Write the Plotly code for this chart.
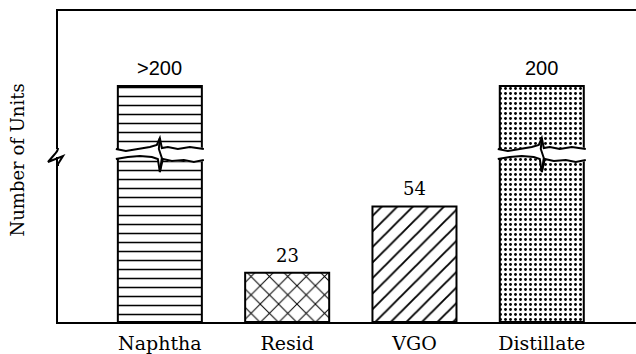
import plotly.graph_objects as go

# Refinery units by feed type
categories = ["Naphtha", "Resid", "VGO", "Distillate"]
units = [200, 23, 54, 200]
value_labels = [">200", "23", "54", "200"]
broken = [True, False, False, True]

patterns = ["-", "x", "/", "."]
pattern_sizes = [9, 13, 11, 5]
pattern_solidity = [0.17, 0.15, 0.17, 0.26]

W, H = 636, 354
M = dict(l=58, r=0, t=11, b=32)

BAR_W = 0.66
LOW_TOP = 0.5305      # top of lower panel (paper fraction)
UP_BOT = 0.5563       # bottom of upper panel
BRK = (LOW_TOP + UP_BOT) / 2
SERIF = "DejaVu Serif"
SANS = "Liberation Sans"


def bar_marker(idx):
    return dict(
        color="white",
        line=dict(color="black", width=2),
        pattern=dict(shape=[patterns[i] for i in idx],
                     size=[pattern_sizes[i] for i in idx],
                     solidity=[pattern_solidity[i] for i in idx],
                     fgcolor="black", bgcolor="white", fgopacity=1, fillmode="replace"),
    )


fig = go.Figure()

# lower panel: every bar
all_idx = list(range(len(categories)))
fig.add_trace(go.Bar(x=categories, y=units, xaxis="x", yaxis="y", width=BAR_W,
                     marker=bar_marker(all_idx), hoverinfo="skip", showlegend=False))

# upper panel: only the bars that run past the break
up_idx = [i for i, b in enumerate(broken) if b]
fig.add_trace(go.Bar(x=[categories[i] for i in up_idx], y=[units[i] for i in up_idx],
                     xaxis="x2", yaxis="y2", width=BAR_W,
                     marker=bar_marker(up_idx), hoverinfo="skip", showlegend=False))

# value labels above bars
for i, (c, v, lab) in enumerate(zip(categories, units, value_labels)):
    upper = broken[i]
    fig.add_annotation(
        x=c, y=v, xref="x2" if upper else "x", yref="y2" if upper else "y",
        text=lab, showarrow=False, yanchor="bottom", yshift=5,
        font=dict(family=SANS if upper else SERIF, size=20 if upper else 18, color="black"),
    )

# wavy break across the tall bars
half = 44
upper_curve = [(-half, 4), (-34, 2), (-22, 4), (-10, 6), (-3, 8), (0, 15),
               (2, 5), (8, 6), (18, 4), (30, 6), (half, 4)]
lower_curve = [(-half, -6), (-32, -4), (-20, -3), (-8, -4), (-2, -6), (0, -19),
               (3, -6), (12, -8), (24, -7), (34, -9), (half, -7)]


def path_of(pts, close=False):
    s = "M " + " L ".join(f"{x},{y}" for x, y in pts)
    return s + (" Z" if close else "")


gap_poly = [(x, y + 1) for x, y in upper_curve] + [(x, y - 1) for x, y in reversed(lower_curve)]
for i, c in enumerate(categories):
    if not broken[i]:
        continue
    common = dict(xref="x", yref="paper", xsizemode="pixel", ysizemode="pixel",
                  xanchor=i, yanchor=BRK, layer="above")
    fig.add_shape(type="path", path=path_of([(-half - 2, 4), *gap_poly[1:-1], (-half - 2, -6)], True),
                  fillcolor="white", line=dict(width=0), **common)
    fig.add_shape(type="path", path=path_of(upper_curve), line=dict(color="black", width=2), **common)
    fig.add_shape(type="path", path=path_of(lower_curve), line=dict(color="black", width=2), **common)
    fig.add_shape(type="path", path="M 0,15 L -1,4 L 2,-5 L 0,-19",
                  line=dict(color="black", width=2), **common)

# break mark on the vertical axis
fig.add_shape(type="path", xref="paper", yref="paper", xsizemode="pixel", ysizemode="pixel",
              xanchor=0, yanchor=BRK,
              path="M 0,5 C 0,2 -2,0 -4,-2 L -10,-9 L 5,-3 L 0,-11 L 0,-13",
              line=dict(color="black", width=2), layer="above")

# y-axis title
fig.add_annotation(text="Number of Units", xref="paper", yref="paper", x=0, y=0.5,
                   xanchor="center", yanchor="middle", xshift=-41, yshift=6,
                   textangle=-90, showarrow=False,
                   font=dict(family=SERIF, size=18, color="black"))

axis_common = dict(showgrid=False, zeroline=False, ticks="", linecolor="black", linewidth=2)
fig.update_layout(
    width=W, height=H, margin=M,
    paper_bgcolor="white", plot_bgcolor="white",
    xaxis=dict(domain=[0, 1], anchor="y", range=[-0.8, 3.74], showline=True,
               ticklabelstandoff=3,
               tickfont=dict(family=SERIF, size=19, color="black"), **axis_common),
    xaxis2=dict(domain=[0, 1], anchor="y2", matches="x", side="top", showline=True,
                showticklabels=False, **axis_common),
    yaxis=dict(domain=[0, LOW_TOP], anchor="x", range=[0, 77.1], showline=True,
               showticklabels=False, **axis_common),
    yaxis2=dict(domain=[UP_BOT, 1], anchor="x2", range=[170.6, 235.1], showline=True,
                showticklabels=False, **axis_common),
)

fig.write_html("out.html")
